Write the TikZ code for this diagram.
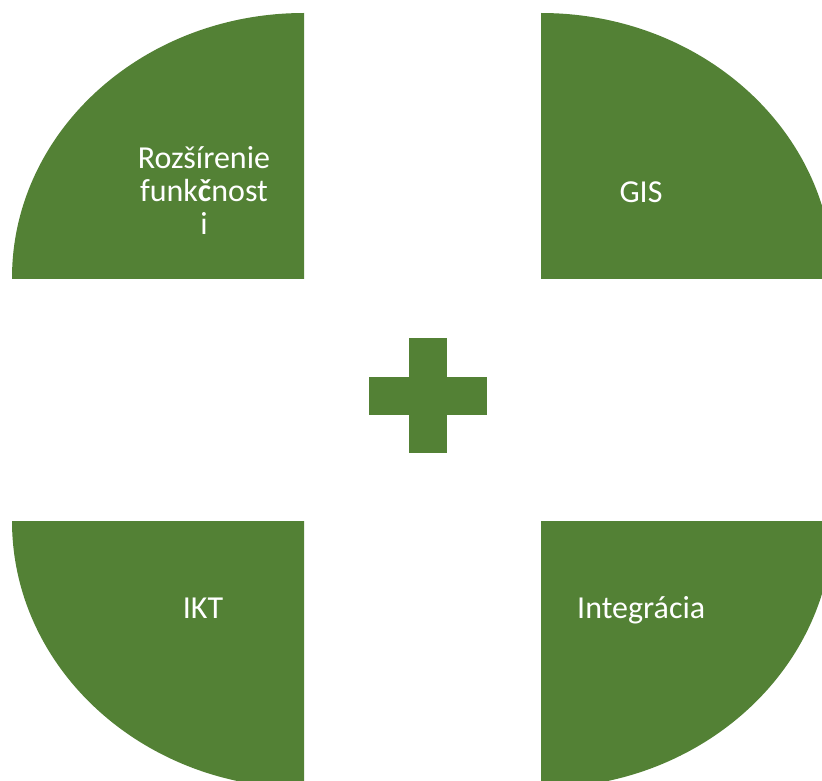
\documentclass[tikz,border=0pt]{standalone}
\usepackage{fontspec}
\setmainfont{Carlito}
\definecolor{leaf}{HTML}{538135}

\begin{document}
\begin{tikzpicture}[
        x=1pt, y=-1pt,
        quarter/.style={
            fill=leaf
        },
        label/.style={
            text=white,
            font=\fontsize{32}{33}\selectfont,
            inner sep=0pt,
            anchor=base,
            align=center
        }
    ]
        \useasboundingbox (0,0) rectangle (822,781);
        \clip (0,0) rectangle (822,781);

        % Quarters
        \begin{scope}
            \clip (12,13) rectangle (304,278);
            \fill[quarter] (304,278) ellipse [x radius=292pt, y radius=265pt];
        \end{scope}
        \begin{scope}
            \clip (541,13) rectangle (822,278);
            \fill[quarter] (541,278) ellipse [x radius=292pt, y radius=265pt];
        \end{scope}
        \begin{scope}
            \clip (12,521) rectangle (304,781);
            \fill[quarter] (304,521) ellipse [x radius=292pt, y radius=267pt];
        \end{scope}
        \begin{scope}
            \clip (541,521) rectangle (822,781);
            \fill[quarter] (541,521) ellipse [x radius=292pt, y radius=267pt];
        \end{scope}

        % Plus sign
        \fill[quarter] (409,338) rectangle (447,453);
        \fill[quarter] (369,377) rectangle (487,415);

        % Labels (base of a multi-line node is its last line)
        \node[label] (ext) at (204,234) {Rozšírenie\\funk{\bfseries č}nost\\i};
        \node[label] (gis) at (641,202) {GIS};
        \node[label] (ikt) at (203,618) {IKT};
        \node[label, anchor=base west] (integ) at (577,618) {Integrácia};
    \end{tikzpicture}
\end{document}
